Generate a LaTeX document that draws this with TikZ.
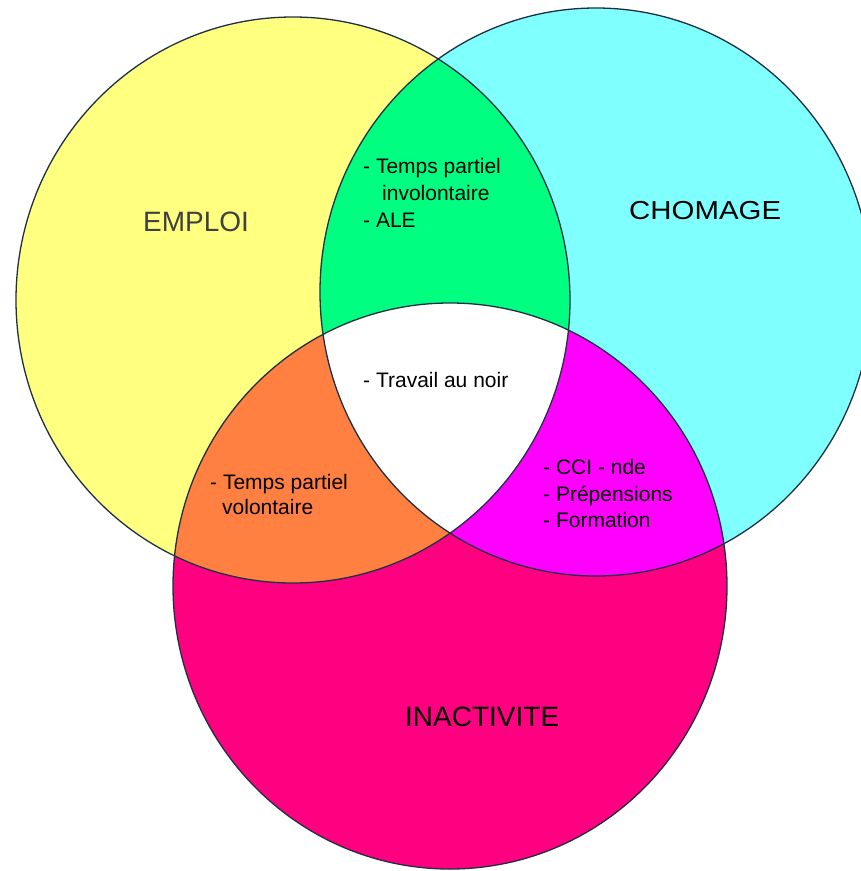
\documentclass[tikz,border=0pt]{standalone}
\usepackage{fontspec}
\setmainfont{Liberation Sans}
\definecolor{yel}{HTML}{FFFF80}
\definecolor{cya}{HTML}{80FFFF}
\definecolor{pnk}{HTML}{FF0080}
\definecolor{grn}{HTML}{00FF80}
\definecolor{org}{HTML}{FF8040}
\definecolor{mag}{HTML}{FF00FF}
\definecolor{edge}{HTML}{1F3045}
\begin{document}
\begin{tikzpicture}[x=1pt,y=-1pt,
  outline/.style={line width=1.3pt, draw=edge},
  small/.style={font=\fontsize{21}{25}\selectfont, text=black, inner sep=0pt, anchor=base west},
  big/.style={font=\fontsize{28}{32}\selectfont, text=black, inner sep=0pt, anchor=base west}]
\useasboundingbox (0,0) rectangle (861,871);
\fill[white] (0,0) rectangle (861,871);
% base fills
\fill[yel] (293,300) ellipse [x radius=277pt, y radius=283pt];
\fill[cya] (596,292) ellipse [x radius=276pt, y radius=284pt];
\fill[pnk] (450,586) ellipse [x radius=277pt, y radius=283pt];
% emploi & chomage
\begin{scope}
  \clip (293,300) ellipse [x radius=277pt, y radius=283pt];
  \fill[grn] (596,292) ellipse [x radius=276pt, y radius=284pt];
  \fill[org] (450,586) ellipse [x radius=277pt, y radius=283pt];
\end{scope}
\begin{scope}
  \clip (596,292) ellipse [x radius=276pt, y radius=284pt];
  \fill[mag] (450,586) ellipse [x radius=277pt, y radius=283pt];
\end{scope}
\begin{scope}
  \clip (293,300) ellipse [x radius=277pt, y radius=283pt];
  \clip (596,292) ellipse [x radius=276pt, y radius=284pt];
  \fill[white] (450,586) ellipse [x radius=277pt, y radius=283pt];
\end{scope}
% outlines
\draw[outline] (293,300) ellipse [x radius=277pt, y radius=283pt];
\draw[outline] (596,292) ellipse [x radius=276pt, y radius=284pt];
\draw[outline] (450,586) ellipse [x radius=277pt, y radius=283pt];
% labels
\node[big, text=black!75] (emploi) at (143,231) {EMPLOI};
\node[big] (chomage) at (629,219) {\scalebox{1.05}[0.93]{CHOMAGE}};
\node[big] (inact) at (405,726) {INACTIVITE};
\node[small] (g1) at (363,173) {- Temps partiel};
\node[small] (g2) at (382,200) {involontaire};
\node[small] (g3) at (363,227) {- ALE};
\node[small] (w1) at (363,387) {- Travail au noir};
\node[small] (o1) at (210,489) {- Temps partiel};
\node[small] (o2) at (222,514) {volontaire};
\node[small] (m1) at (543,474) {- CCI - nde};
\node[small] (m2) at (543,501) {- Prépensions};
\node[small] (m3) at (543,527) {- Formation};
\end{tikzpicture}
\end{document}
